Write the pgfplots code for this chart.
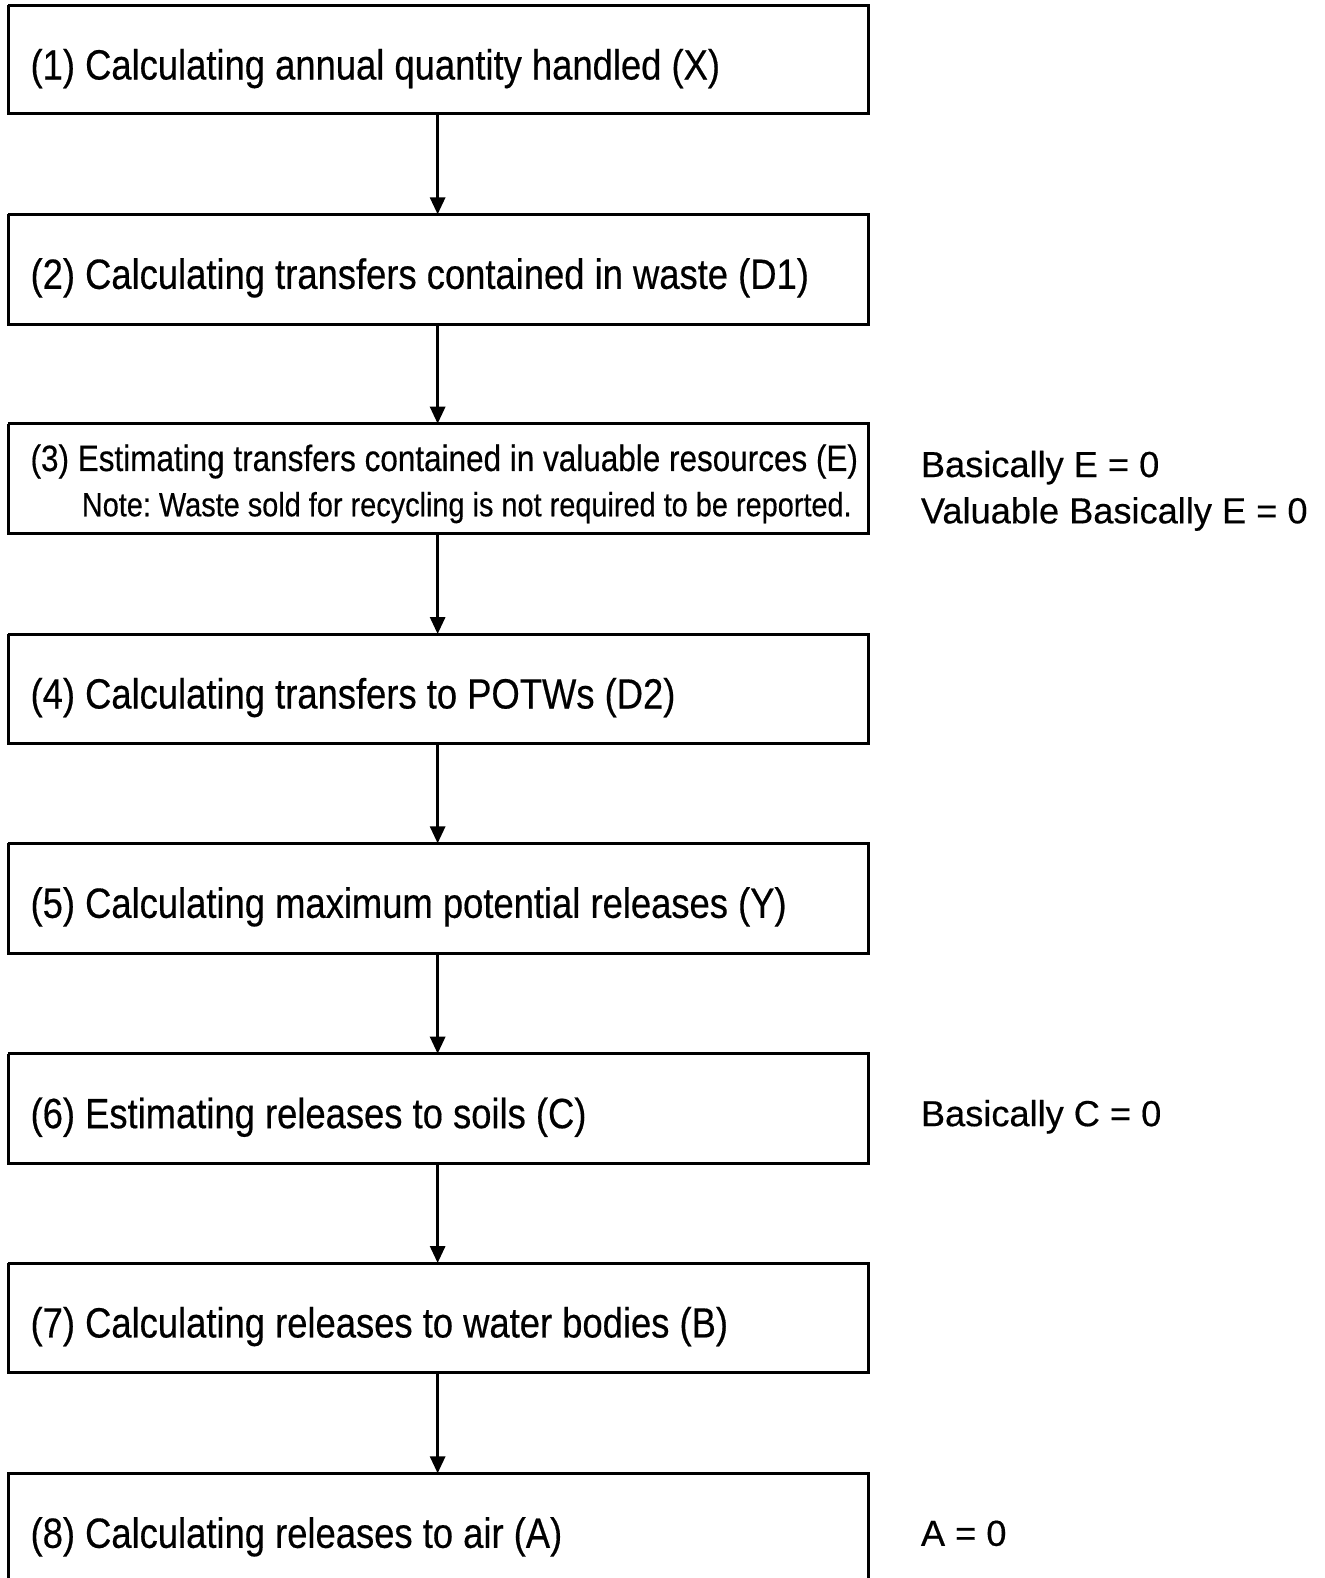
\documentclass[border=0pt]{standalone}
\usepackage{pgfplots}
\pgfplotsset{compat=1.18}
\usetikzlibrary{arrows.meta}
\usepackage{fontspec}
\setmainfont[FakeBold=0.4]{Liberation Sans}
\newfontfamily\boxfont[FakeStretch=0.86,FakeBold=0.4]{Liberation Sans}
\newcommand{\bt}{\boxfont\fontsize{21.15}{25}\selectfont}
\newcommand{\bs}{\boxfont\fontsize{18.3}{22}\selectfont}
\newcommand{\bn}{\boxfont\fontsize{16.8}{21}\selectfont}
\newcommand{\rt}{\fontsize{18.1}{22}\selectfont}
\frenchspacing
\begin{document}
\begin{tikzpicture}
\begin{axis}[x=0.50304pt, y=0.50319pt, xmin=0, xmax=1317, ymin=0, ymax=1568,
  y dir=reverse, hide axis, clip=false,
  cycle list={{black,solid}},
  every axis plot/.append style={black, solid, line width=1.5pt, no markers, line join=miter}]
\coordinate (bl) at (axis cs:0,1568);
\coordinate (tr) at (axis cs:1317,0);
% boxes
\addplot coordinates {(8,5)(863,5)(863,113)(8,113)(8,5)};
\addplot coordinates {(8,213)(863,213)(863,322)(8,322)(8,213)};
\addplot coordinates {(8,421)(863,421)(863,530)(8,530)(8,421)};
\addplot coordinates {(8,630)(863,630)(863,739)(8,739)(8,630)};
\addplot coordinates {(8,838)(863,838)(863,947)(8,947)(8,838)};
\addplot coordinates {(8,1047)(863,1047)(863,1156)(8,1156)(8,1047)};
\addplot coordinates {(8,1255)(863,1255)(863,1364)(8,1364)(8,1255)};
\addplot coordinates {(8,1568)(8,1464)(863,1464)(863,1568)};
% arrows
\addplot[-{Triangle[width=7.5pt,length=8.5pt]}, line width=1.5pt] coordinates {(435,113)(435,213)};
\addplot[-{Triangle[width=7.5pt,length=8.5pt]}, line width=1.5pt] coordinates {(435,322)(435,421)};
\addplot[-{Triangle[width=7.5pt,length=8.5pt]}, line width=1.5pt] coordinates {(435,530)(435,630)};
\addplot[-{Triangle[width=7.5pt,length=8.5pt]}, line width=1.5pt] coordinates {(435,739)(435,838)};
\addplot[-{Triangle[width=7.5pt,length=8.5pt]}, line width=1.5pt] coordinates {(435,947)(435,1047)};
\addplot[-{Triangle[width=7.5pt,length=8.5pt]}, line width=1.5pt] coordinates {(435,1156)(435,1255)};
\addplot[-{Triangle[width=7.5pt,length=8.5pt]}, line width=1.5pt] coordinates {(435,1364)(435,1464)};
% texts
\node[anchor=base west, inner sep=0] at (axis cs:30,79) {\bt (1) Calculating annual quantity handled (X)};
\node[anchor=base west, inner sep=0] at (axis cs:30,287) {\bt (2) Calculating transfers contained in waste (D1)};
\node[anchor=base west, inner sep=0] at (axis cs:30,468) {\bs (3) Estimating transfers contained in valuable resources (E)};
\node[anchor=base east, inner sep=0] at (axis cs:847,513) {\bn Note: Waste sold for recycling is not required to be reported.};
\node[anchor=base west, inner sep=0] at (axis cs:30,704) {\bt (4) Calculating transfers to POTWs (D2)};
\node[anchor=base west, inner sep=0] at (axis cs:30,912) {\bt (5) Calculating maximum potential releases (Y)};
\node[anchor=base west, inner sep=0] at (axis cs:30,1121) {\bt (6) Estimating releases to soils (C)};
\node[anchor=base west, inner sep=0] at (axis cs:30,1329) {\bt (7) Calculating releases to water bodies (B)};
\node[anchor=base west, inner sep=0] at (axis cs:30,1538) {\bt (8) Calculating releases to air (A)};
\node[anchor=base west, inner sep=0] at (axis cs:915,474) {\rt Basically E = 0};
\node[anchor=base west, inner sep=0] at (axis cs:915,520) {\rt Valuable Basically E = 0};
\node[anchor=base west, inner sep=0] at (axis cs:915,1119) {\rt Basically C = 0};
\node[anchor=base west, inner sep=0] at (axis cs:915,1536) {\rt A = 0};
\end{axis}
\pgfresetboundingbox
\path[use as bounding box] (bl) rectangle (tr);
\end{tikzpicture}
\end{document}
